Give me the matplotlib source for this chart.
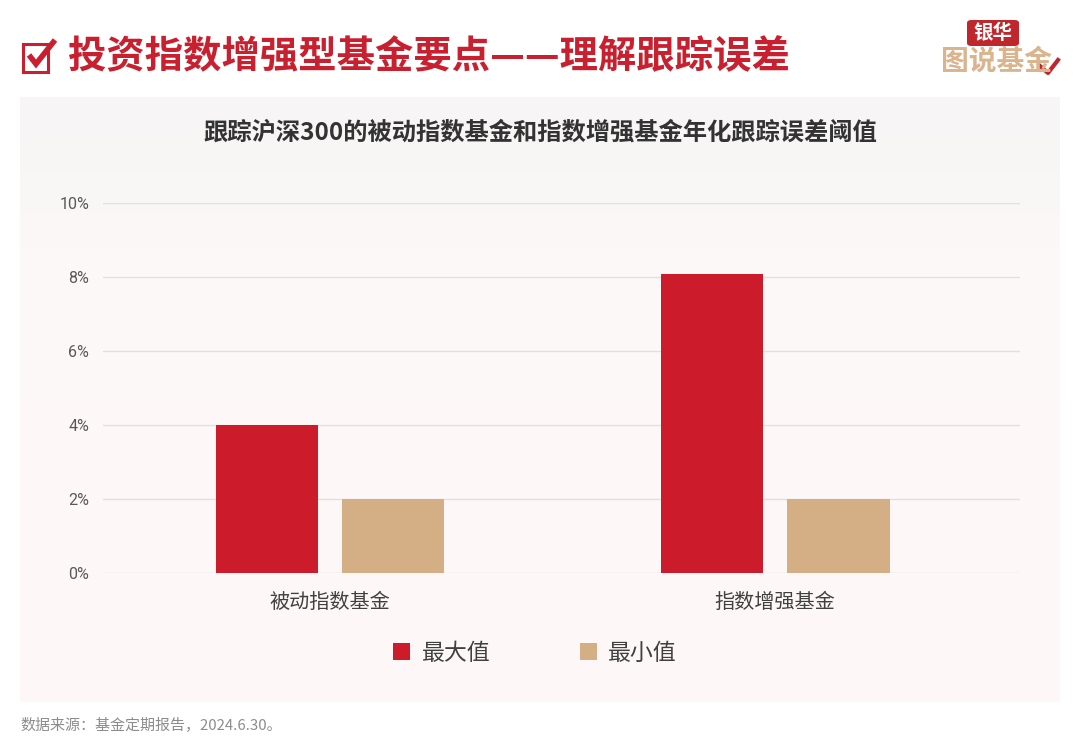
import numpy as np
import matplotlib.pyplot as plt
from matplotlib.patches import Rectangle, FancyBboxPatch
from matplotlib.colors import LinearSegmentedColormap

plt.rcParams['font.family'] = ['Noto Sans CJK SC', 'DejaVu Sans']

categories = ["被动指数基金", "指数增强基金"]
max_values = [4.0, 8.07]
min_values = [2.0, 2.0]
series_names = ["最大值", "最小值"]
y_ticks = [0, 2, 4, 6, 8, 10]

RED = "#cc1b2b"
TAN = "#d4ae84"
TITLE_RED = "#c9202f"

W, H = 1080, 750
fig = plt.figure(figsize=(10.8, 7.5), dpi=100)
fig.patch.set_facecolor("white")


def fx(px):
    return px / W


def fy(py):
    return 1 - py / H


# panel background, slightly grey at the top edge
bg = fig.add_axes([fx(20), fy(702), fx(1040), (702 - 97) / H])
bg.set_axis_off()
grad = np.linspace(0, 1, 200).reshape(-1, 1)
cmap = LinearSegmentedColormap.from_list("panel", ["#f7f5f5", "#fbf8f7", "#fdf8f7", "#fdf8f7", "#fdf8f7"])
bg.imshow(grad, aspect="auto", cmap=cmap, extent=[0, 1, 0, 1], origin="upper")
bg.set_zorder(0)

# chart
ax = fig.add_axes([fx(103), fy(573), fx(1020 - 103), (573 - 203) / H])
ax.set_facecolor("none")
ax.set_zorder(1)
x = np.arange(len(categories))
width = 0.23
off = 0.142
ax.bar(x - off, max_values, width, color=RED, label=series_names[0], zorder=3)
ax.bar(x + off, min_values, width, color=TAN, label=series_names[1], zorder=3)
ax.set_xlim(-0.51, 1.55)
ax.set_ylim(0, 10)
ax.set_yticks(y_ticks)
ax.set_yticklabels([f"{v}%" for v in y_ticks])
ax.set_xticks(x)
ax.set_xticklabels(categories)
ax.grid(axis="y", color="#e3dfdf", linewidth=1, zorder=0)
for s in ax.spines.values():
    s.set_visible(False)
ax.tick_params(axis="y", length=0, pad=10, labelsize=11.5, labelcolor="#595959")
ax.tick_params(axis="x", length=0, pad=14, labelsize=14.5, labelcolor="#404040")
for lbl in ax.get_yticklabels():
    lbl.set_fontfamily(["Roboto", "DejaVu Sans"])

# legend
leg = fig.legend(loc="center", bbox_to_anchor=(fx(535), fy(653)), ncol=2, frameon=False,
                 fontsize=16.5, handlelength=0.75, handleheight=0.75, columnspacing=3.9,
                 handletextpad=0.5, labelcolor="#404040")

# chart subtitle
fig.text(fx(540), fy(133), "跟踪沪深300的被动指数基金和指数增强基金年化跟踪误差阈值",
         ha="center", va="center", fontsize=17.5, color="#333333", fontweight="bold")

# main title
fig.text(fx(68), fy(57), "投资指数增强型基金要点——理解跟踪误差", ha="left", va="center",
         fontsize=27.6, color=TITLE_RED, fontweight="bold")

# checkbox icon
fig.add_artist(Rectangle((fx(23), fy(72)), fx(25), (72 - 44) / H, fill=False,
                         edgecolor=TITLE_RED, linewidth=2.2, transform=fig.transFigure))
fig.add_artist(plt.Line2D([fx(29), fx(36), fx(55)], [fy(55), fy(64), fy(40)],
                          color=TITLE_RED, linewidth=4, solid_capstyle="butt",
                          solid_joinstyle="miter", transform=fig.transFigure))

# logo
fig.add_artist(FancyBboxPatch((fx(967), fy(46)), fx(52), (46 - 20) / H,
                              boxstyle="round,pad=0,rounding_size=0.004",
                              facecolor="#c0272d", edgecolor="none", transform=fig.transFigure))
fig.text(fx(993), fy(33), "银华", ha="center", va="center", fontsize=14,
         color="white", fontweight="bold")
fig.text(fx(996), fy(62), "图说基金", ha="center", va="center", fontsize=20,
         color="#d9b48c", fontweight="black")
fig.add_artist(plt.Line2D([fx(1040), fx(1048), fx(1058)], [fy(66), fy(73), fy(60)],
                          color="#c0272d", linewidth=3, transform=fig.transFigure))

# footnote
fig.text(fx(20), fy(725), "数据来源：基金定期报告，2024.6.30。", ha="left", va="center",
         fontsize=10.8, color="#8c8c8c")

fig.savefig("out.png", dpi=100, facecolor=fig.get_facecolor())
